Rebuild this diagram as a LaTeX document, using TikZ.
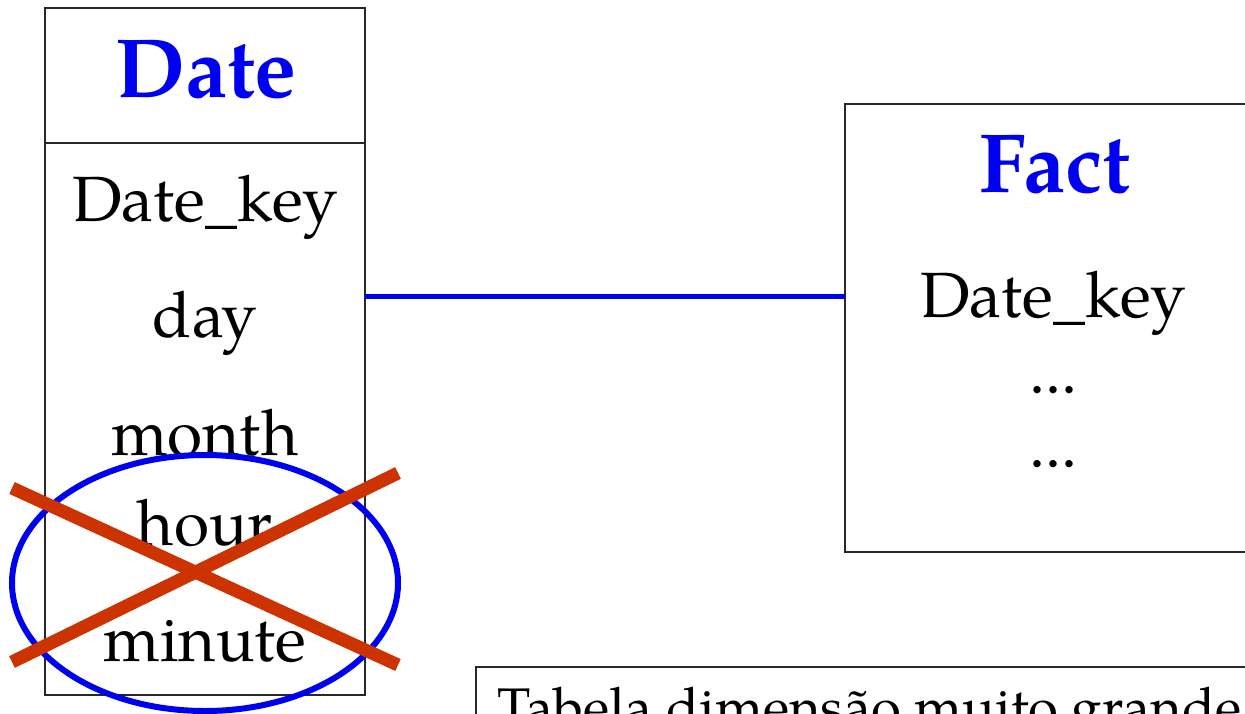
\documentclass[tikz,border=0pt]{standalone}
\usepackage{fontspec}
\setmainfont{TeX Gyre Pagella}
\definecolor{titleblue}{RGB}{0,0,240}
\definecolor{linkblue}{RGB}{0,0,240}
\definecolor{crossred}{RGB}{204,51,0}
\definecolor{boxgray}{RGB}{40,40,40}
\newcommand{\attrfont}{\fontsize{32}{36}\selectfont}
\newcommand{\notefont}{\fontsize{27.2}{32}\selectfont}
\newcommand{\titlefont}{\fontsize{42}{48}\selectfont\bfseries\color{titleblue}}
\tikzset{
  tablebox/.style={draw=boxgray, line width=0.9pt},
  attr/.style={anchor=base, inner sep=0pt, font=\attrfont},
  ttl/.style={anchor=base, inner sep=0pt, font=\titlefont},
  link/.style={draw=linkblue, line width=2.5pt},
  ring/.style={draw=linkblue, line width=3pt},
  strike/.style={draw=crossred, line width=6.5pt},
}
\begin{document}
\begin{tikzpicture}[x=0.5pt, y=-0.5pt]
\useasboundingbox (0,0) rectangle (1245,713);
\clip (0,0) rectangle (1245,713);

% Date dimension table
\draw[tablebox] (45,8) rectangle (365,695);
\draw[tablebox] (45,143) -- (365,143);
\node[ttl] (datettl) at (206,97) {Date};
\node[attr] (dkey) at (205,221) {Date\_key};
\node[attr] (day) at (205,337) {day};
\node[attr] (month) at (205,455) {month};
\node[attr] (hour) at (205,545) {hour};
\node[attr] (minute) at (205,661) {minute};

% Fact table
\draw[tablebox] (845,104) rectangle (1270,552);
\node[ttl] (factttl) at (1055,192) {Fact};
\node[attr] (fkey) at (1053,317) {Date\_key};
\node[attr] (dots1) at (1053,393) {...};
\node[attr] (dots2) at (1053,467) {...};

% Link between the two tables
\coordinate (dateedge) at (365,296);
\coordinate (factedge) at (845,296);
\draw[link] (dateedge) -- (factedge);

% Attributes to be removed
\coordinate (ringc) at (205,583);
\draw[ring] (ringc) ellipse [x radius=96.5pt, y radius=64pt];
\coordinate (xa) at (12,488);
\coordinate (xb) at (398,665);
\coordinate (xc) at (12,662);
\coordinate (xd) at (398,473);
\draw[strike] (xa) -- (xb);
\draw[strike] (xc) -- (xd);

% Note box
\draw[tablebox] (476,667) rectangle (1270,760);
\node[anchor=base west, inner sep=0pt, font=\notefont] (note) at (497,726) {Tabela dimensão muito grande};
\end{tikzpicture}
\end{document}
